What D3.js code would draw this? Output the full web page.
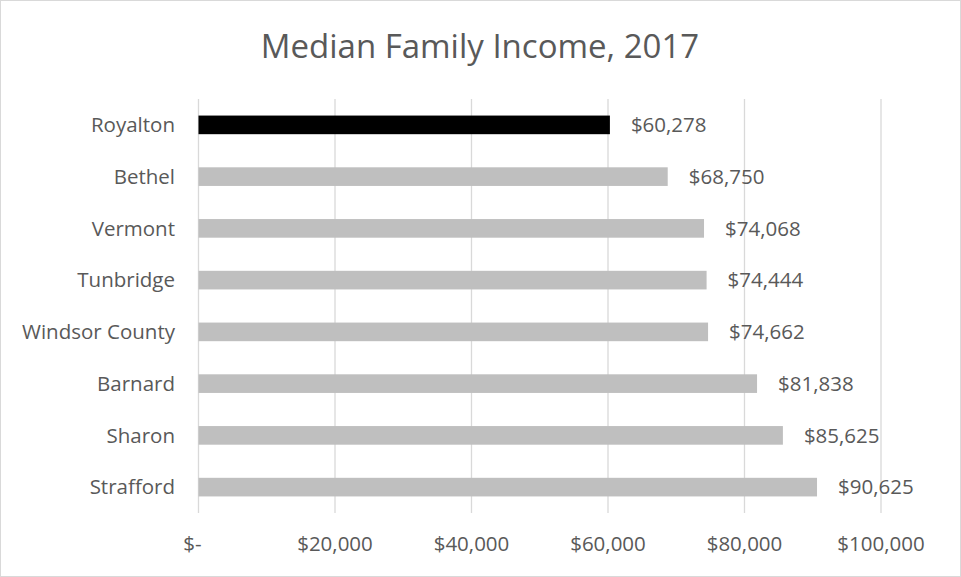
<!DOCTYPE html>
<html>
<head>
<meta charset="utf-8">
<script src="https://cdn.jsdelivr.net/npm/d3@7"></script>
<style>
  body { margin: 0; background: #fff; }
  text { font-family: "Open Sans", sans-serif; fill: #595959; }
</style>
</head>
<body>
<svg id="chart" width="961" height="577"></svg>
<script>
var width = 961,
  height = 577;

// data
const places = ["Royalton", "Bethel", "Vermont", "Tunbridge", "Windsor County", "Barnard", "Sharon", "Strafford"];
const incomes = [60278, 68750, 74068, 74444, 74662, 81838, 85625, 90625];
const highlight = "Royalton";
const xTicks = [0, 20000, 40000, 60000, 80000, 100000];

const margin = { top: 99, right: 80, bottom: 64, left: 198.5 };

const svg = d3.select("#chart");

// outer border
svg.append("rect")
  .attr("x", 0.5).attr("y", 0.5)
  .attr("width", width - 1).attr("height", height - 1)
  .attr("fill", "#fff")
  .attr("stroke", "#d9d9d9");

const x = d3.scaleLinear()
  .domain([0, 100000])
  .range([margin.left, 881]);

const y = d3.scaleBand()
  .domain(places)
  .range([margin.top, height - margin.bottom])
  .paddingInner(0.64)
  .paddingOuter(0.32);

// gridlines
svg.append("g")
  .selectAll("line")
  .data(xTicks)
  .join("line")
  .attr("x1", (d) => x(d))
  .attr("x2", (d) => x(d))
  .attr("y1", margin.top)
  .attr("y2", height - margin.bottom)
  .attr("stroke", "#d9d9d9")
  .attr("stroke-width", 1.3);

// bars
svg.append("g")
  .selectAll("rect")
  .data(places)
  .join("rect")
  .attr("x", x(0))
  .attr("y", (d) => y(d))
  .attr("width", (d, i) => x(incomes[i]) - x(0))
  .attr("height", y.bandwidth())
  .attr("fill", (d) => (d === highlight ? "#000000" : "#bfbfbf"));

// value labels
const fmt = d3.format(",");
svg.append("g")
  .selectAll("text")
  .data(places)
  .join("text")
  .attr("x", (d, i) => x(incomes[i]) + 21)
  .attr("y", (d) => y(d) + y.bandwidth() / 2)
  .attr("dy", "0.35em")
  .attr("font-size", 20.5)
  .text((d, i) => "$" + fmt(incomes[i]));

// category labels
svg.append("g")
  .selectAll("text")
  .data(places)
  .join("text")
  .attr("x", 175)
  .attr("y", (d) => y(d) + y.bandwidth() / 2)
  .attr("dy", "0.35em")
  .attr("text-anchor", "end")
  .attr("font-size", 20.5)
  .text((d) => d);

// x tick labels (accounting style: zero shows as "$-")
svg.append("g")
  .selectAll("text")
  .data(xTicks)
  .join("text")
  .attr("x", (d) => (d === 0 ? x(d) - 6 : x(d)))
  .attr("y", 544)
  .attr("dy", "0.35em")
  .attr("text-anchor", "middle")
  .attr("font-size", 20.5)
  .text((d) => (d === 0 ? "$-" : "$" + fmt(d)));

// title
svg.append("text")
  .attr("x", 480)
  .attr("y", 46)
  .attr("dy", "0.35em")
  .attr("text-anchor", "middle")
  .attr("font-size", 33)
  .text("Median Family Income, 2017");
</script>
</body>
</html>
